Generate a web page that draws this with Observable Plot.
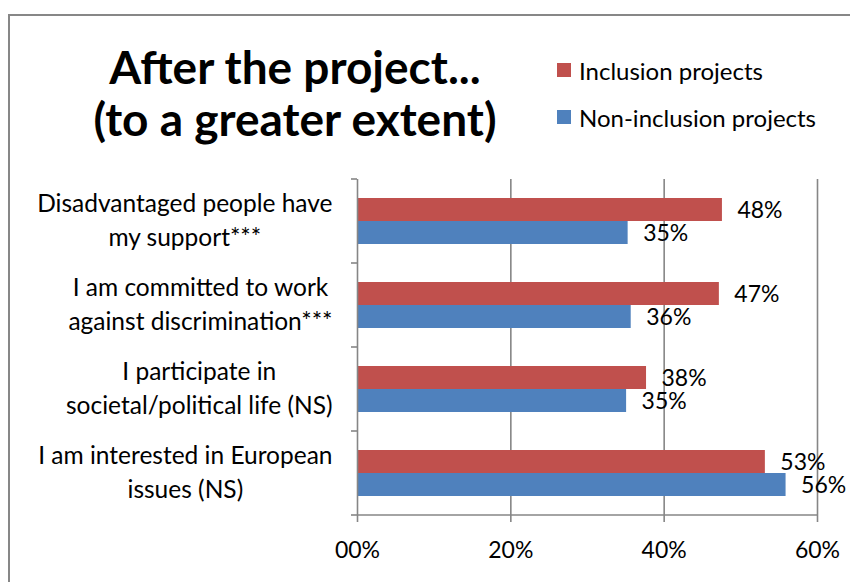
<!DOCTYPE html>
<html>
<head>
<meta charset="utf-8">
<script src="https://cdn.jsdelivr.net/npm/d3@7"></script>
<script src="https://cdn.jsdelivr.net/npm/@observablehq/plot@0.6"></script>
<style>
  html, body { margin: 0; padding: 0; background: #fff; overflow: hidden; }
  #wrap { position: relative; width: 850px; height: 582px; font-family: Lato, sans-serif; color: #000; }
  #border { position: absolute; left: 8px; top: 14px; width: 1000px; height: 1000px; border-left: 2px solid #878787; border-top: 2px solid #878787; }
  #header { position: relative; height: 170px; }
  #title { position: absolute; left: 45px; width: 500px; top: 41px; text-align: center; font-weight: bold; font-size: 46px; line-height: 52px; }
  #legend { position: absolute; left: 557px; top: 55px; font-size: 24px; }
  .item { display: flex; align-items: center; height: 30px; margin-bottom: 17px; }
  .sw { width: 14px; height: 14px; margin-right: 8px; }
  #chart { position: relative; }
</style>
</head>
<body>
<div id="wrap">
  <div id="border"></div>
  <div id="header">
    <div id="title">After the project...<br>(to a greater extent)</div>
    <div id="legend"></div>
  </div>
  <div id="chart"></div>
</div>
<script>
const categories = [
  "Disadvantaged people have\nmy support***",
  "I am committed to work\nagainst discrimination***",
  "I participate in\nsocietal/political life (NS)",
  "I am interested in European\nissues (NS)"
];
const seriesNames = ["Inclusion projects", "Non-inclusion projects"];
const seriesColors = ["#C0504D", "#4F81BD"];
const inclusionValues = [47.6, 47.2, 37.7, 53.2];
const nonInclusionValues = [35.3, 35.7, 35.1, 55.9];
const xTicks = [0, 20, 40, 60];
const xTickLabels = ["00%", "20%", "40%", "60%"];

const rows = [];
categories.forEach((c, i) => {
  rows.push({category: c, series: seriesNames[0], value: inclusionValues[i]});
  rows.push({category: c, series: seriesNames[1], value: nonInclusionValues[i]});
});

// legend
const legend = document.getElementById("legend");
seriesNames.forEach((s, i) => {
  const it = document.createElement("div");
  it.className = "item";
  it.innerHTML = `<div class="sw" style="background:${seriesColors[i]}"></div><span>${s}</span>`;
  legend.appendChild(it);
});

// measure label block widths so lines are centered within a right-aligned block
const labelFont = 24.5;
const ctx = document.createElement("canvas").getContext("2d");
ctx.font = `${labelFont}px Lato`;
const blockWidth = c => Math.max(...c.split("\n").map(l => ctx.measureText(l).width));
const labelGap = 25;

const labelMarks = categories.map(c =>
  Plot.text([c], {
    fy: d => d,
    text: d => d,
    frameAnchor: "left",
    textAnchor: "middle",
    lineAnchor: "middle",
    lineHeight: 1.39,
    fontSize: labelFont,
    dx: -(labelGap + blockWidth(c) / 2),
    dy: -3
  })
);

const plot = Plot.plot({
  width: 850,
  height: 412,
  marginTop: 7,
  marginBottom: 66,
  marginLeft: 357,
  marginRight: 33,
  style: {fontFamily: "Lato, sans-serif", fontSize: "23px", color: "#000", background: "transparent", overflow: "visible"},
  x: {domain: [0, 60], axis: null},
  fy: {domain: categories, padding: 0, axis: null},
  y: {domain: seriesNames, paddingInner: 0, paddingOuter: 0.755, axis: null},
  color: {domain: seriesNames, range: seriesColors},
  marks: [
    Plot.gridX({ticks: xTicks.filter(d => d > 0), stroke: "#868686", strokeOpacity: 1, strokeWidth: 1.6}),
    Plot.barX(rows, {x: "value", y: "series", fy: "category", fill: "series"}),
    Plot.ruleX([0], {stroke: "#868686", strokeWidth: 1.6}),
    Plot.text(rows, {x: "value", y: "series", fy: "category", text: d => Math.round(d.value) + "%", textAnchor: "start", dx: 15, dy: 1, fontSize: 23}),
    Plot.axisX({ticks: xTicks, tickFormat: (d, i) => xTickLabels[i], tickSize: 7, tickPadding: 19, stroke: "#868686", strokeWidth: 1.6, strokeOpacity: 1, fontSize: 23, label: null}),
    ...labelMarks
  ]
});

document.getElementById("chart").appendChild(plot);

// x baseline and category boundary ticks, positioned from Plot's own scales
const fy = plot.scale("fy"), xs = plot.scale("x");
const x0 = xs.apply(0), x1 = xs.apply(60);
const bw = fy.bandwidth;
const bounds = fy.domain.map(d => fy.apply(d));
bounds.push(bounds[bounds.length - 1] + bw);
const g = d3.select(plot).append("g").attr("stroke", "#868686").attr("stroke-width", 1.6);
g.append("line").attr("x1", x0).attr("x2", x1).attr("y1", bounds[bounds.length - 1]).attr("y2", bounds[bounds.length - 1]);
bounds.forEach(b => g.append("line").attr("x1", x0 - 6).attr("x2", x0).attr("y1", b).attr("y2", b));
</script>
</body>
</html>
